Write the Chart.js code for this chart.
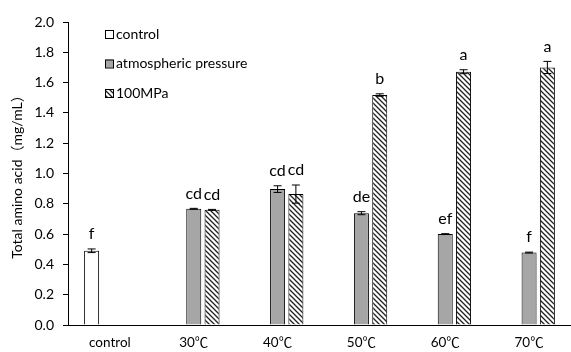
<!DOCTYPE html>
<html>
<head>
<meta charset="utf-8">
<script src="https://cdn.jsdelivr.net/npm/chart.js@4/dist/chart.umd.min.js"></script>
<style>
  html, body { margin: 0; padding: 0; background: #fff; }
  #wrap { width: 571px; height: 352px; position: relative; }
</style>
</head>
<body>
<div id="wrap"><canvas id="chart"></canvas></div>
<script>
// categories and values
const categories = ['control', '30℃', '40℃', '50℃', '60℃', '70℃'];
const seriesNames = ['control', 'atmospheric pressure', '100MPa'];

const controlValues = [0.49, null, null, null, null, null];
const atmValues     = [null, 0.767, 0.897, 0.738, 0.600, 0.478];
const mpaValues     = [null, 0.760, 0.864, 1.518, 1.672, 1.700];

const controlErr = [0.012, 0, 0, 0, 0, 0];
const atmErr     = [0, 0.003, 0.022, 0.010, 0.003, 0.003];
const mpaErr     = [0, 0.003, 0.060, 0.008, 0.013, 0.040];

const controlLetters = ['f', '', '', '', '', ''];
const atmLetters     = ['', 'cd', 'cd', 'de', 'ef', 'f'];
const mpaLetters     = ['', 'cd', 'cd', 'b', 'a', 'a'];

const FONT = "Lato, 'Noto Sans CJK SC', sans-serif";

// diagonal hatch like the excel pattern
function makeHatch() {
    const c = document.createElement('canvas');
    c.width = 5; c.height = 5;
    const g = c.getContext('2d');
    g.fillStyle = '#fff';
    g.fillRect(0, 0, 5, 5);
    g.strokeStyle = '#222';
    g.lineWidth = 1.3;
    g.beginPath();
    g.moveTo(-1, -1); g.lineTo(6, 6);
    g.moveTo(-1, 4); g.lineTo(1, 6);
    g.moveTo(4, -1); g.lineTo(6, 1);
    g.stroke();
    return g.createPattern(c, 'repeat');
}
const hatch = makeHatch();

const fills = ['#ffffff', '#a6a6a6', hatch];
const errs = [controlErr, atmErr, mpaErr];
const letters = [controlLetters, atmLetters, mpaLetters];

// error bars + significance letters
const barExtras = {
    id: 'barExtras',
    afterDatasetsDraw(chart) {
        const ctx = chart.ctx;
        const y = chart.scales.y;
        ctx.save();
        chart.data.datasets.forEach((ds, di) => {
            const meta = chart.getDatasetMeta(di);
            meta.data.forEach((bar, i) => {
                const v = ds.data[i];
                if (v === null || v === undefined) return;
                const e = errs[di][i];
                const top = y.getPixelForValue(v + e);
                const bot = y.getPixelForValue(v - e);
                if (e > 0) {
                    ctx.strokeStyle = '#000';
                    ctx.lineWidth = 1;
                    ctx.beginPath();
                    ctx.moveTo(bar.x, top); ctx.lineTo(bar.x, bot);
                    ctx.moveTo(bar.x - 4, top); ctx.lineTo(bar.x + 4, top);
                    ctx.moveTo(bar.x - 4, bot); ctx.lineTo(bar.x + 4, bot);
                    ctx.stroke();
                }
                const t = letters[di][i];
                if (t) {
                    ctx.fillStyle = '#000';
                    ctx.font = '16px ' + FONT;
                    ctx.textAlign = 'center';
                    ctx.textBaseline = 'middle';
                    ctx.fillText(t, bar.x, top - 15);
                }
            });
        });
        ctx.restore();
    }
};

// legend drawn inside the plot, top left, one item per line
const insideLegend = {
    id: 'insideLegend',
    afterDraw(chart) {
        const ctx = chart.ctx;
        ctx.save();
        ctx.font = '14px ' + FONT;
        ctx.textBaseline = 'middle';
        ctx.textAlign = 'left';
        seriesNames.forEach((name, i) => {
            const cy = 34 + i * 29.5;
            ctx.fillStyle = fills[i];
            ctx.fillRect(105, cy - 4, 8, 8);
            ctx.strokeStyle = '#000';
            ctx.lineWidth = 1;
            ctx.strokeRect(105.5, cy - 3.5, 8, 8);
            ctx.fillStyle = '#000';
            ctx.fillText(name, 116, cy);
        });
        ctx.restore();
    }
};

const datasets = [controlValues, atmValues, mpaValues].map((vals, i) => ({
    label: seriesNames[i],
    data: vals,
    backgroundColor: fills[i],
    borderColor: '#000',
    borderWidth: 1,
    categoryPercentage: 0.655,
    barPercentage: 0.82
}));

new Chart(document.getElementById('chart'), {
    type: 'bar',
    data: { labels: categories, datasets: datasets },
    options: {
        responsive: true,
        maintainAspectRatio: false,
        animation: false,
        layout: { padding: { top: 22, right: 0, bottom: 0, left: 9 } },
        plugins: {
            legend: { display: false },
            tooltip: { enabled: false }
        },
        scales: {
            x: {
                grid: { display: false, drawTicks: false },
                border: { color: '#000', width: 1 },
                ticks: { color: '#000', font: { family: FONT, size: 13.5 }, padding: 10, maxRotation: 0 },
                afterFit(scale) { scale.height = 27; }
            },
            y: {
                min: 0,
                max: 2.0,
                grid: { drawOnChartArea: false, drawTicks: true, tickLength: 5, color: '#000' },
                border: { color: '#000', width: 1 },
                ticks: {
                    stepSize: 0.2,
                    color: '#000',
                    padding: 9,
                    font: { family: FONT, size: 14 },
                    callback: v => v.toFixed(1)
                },
                title: {
                    display: true,
                    text: 'Total amino acid（mg/mL）',
                    color: '#000',
                    font: { family: FONT, size: 14 },
                    padding: 0
                },
                afterFit(scale) { scale.width = 59; }
            }
        }
    },
    plugins: [barExtras, insideLegend]
});
</script>
</body>
</html>
